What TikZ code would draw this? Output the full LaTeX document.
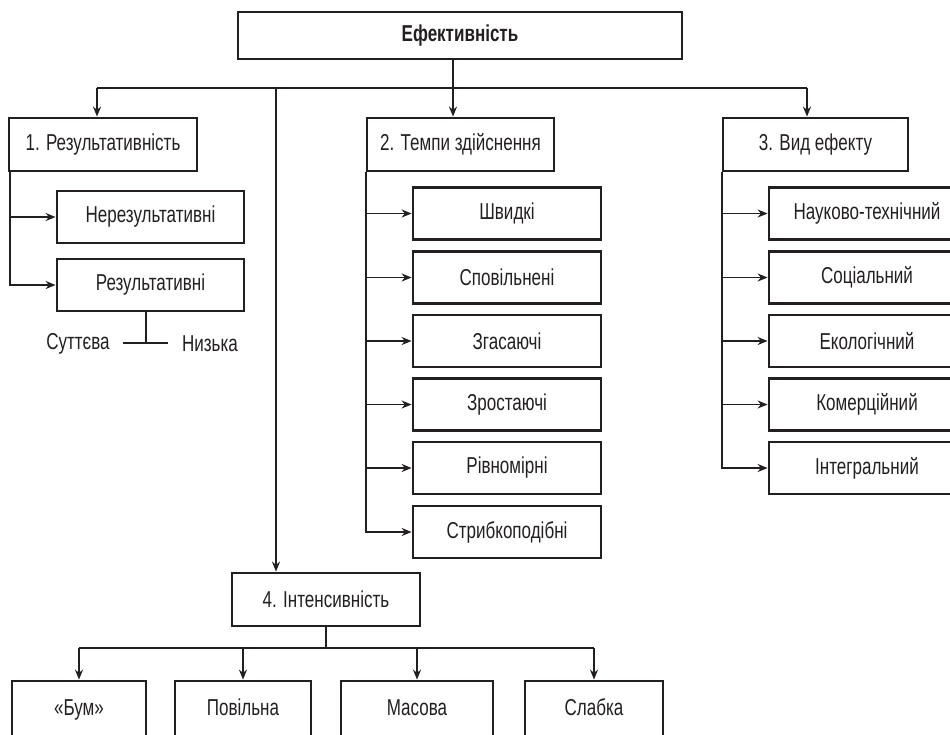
\documentclass[tikz,border=0pt]{standalone}
\usepackage{fontspec}
\setmainfont{Liberation Sans}[FakeStretch=0.74]
\usetikzlibrary{arrows.meta}
\definecolor{ink}{HTML}{231F20}
\tikzset{
  box/.style={draw=ink, line width=2.8pt, minimum height=52pt, inner sep=0pt,
    font=\fontsize{23}{25}\selectfont, text=ink},
  lowbox/.style={box, minimum height=64pt, text height=14pt, text depth=10pt},
  lbl/.style={inner sep=0pt, font=\fontsize{23}{25}\selectfont, text=ink},
  link/.style={draw=ink, line width=1.8pt},
  arr/.style={link, -{Stealth[length=10pt,width=8pt]}},
}
\begin{document}
\begin{tikzpicture}[x=1pt,y=-1pt]
\useasboundingbox (0,0) rectangle (950,734);
\clip (0,0) rectangle (950,734);

% root
\node[box, minimum width=444pt, minimum height=47pt, font=\fontsize{23}{25}\selectfont\bfseries]
  (top) at (460,35.5) {Ефективність};

% first-level groups
\node[box, minimum width=188pt, minimum height=53pt] (r1) at (103,144.5) {1. Результативність};
\node[box, minimum width=187pt, minimum height=53pt] (r2) at (460.5,144.5) {2. Темпи здійснення};
\node[box, minimum width=185pt, minimum height=53pt] (r3) at (815.5,144.5) {3. Вид ефекту};
\node[box, minimum width=188pt, minimum height=53pt] (r4) at (326,599.5) {4. Інтенсивність};

% group 1
\node[box, minimum width=187pt] (a1) at (150.5,217) {Нерезультативні};
\node[box, minimum width=187pt] (a2) at (150.5,285) {Результативні};
\node[lbl] (s1) at (78,344) {Суттєва};
\node[lbl] (s2) at (210,344) {Низька};

% group 2
\node[box, minimum width=188pt] (b1) at (507,213.5) {Швидкі};
\node[box, minimum width=188pt] (b2) at (507,277.5) {Сповільнені};
\node[box, minimum width=188pt] (b3) at (507,341) {Згасаючі};
\node[box, minimum width=188pt] (b4) at (507,404.5) {Зростаючі};
\node[box, minimum width=188pt] (b5) at (507,468) {Рівномірні};
\node[box, minimum width=188pt] (b6) at (507,532) {Стрибкоподібні};

% group 3
\node[box, minimum width=196pt] (c1) at (867,213.5) {Науково-технічний};
\node[box, minimum width=196pt] (c2) at (867,277.5) {Соціальний};
\node[box, minimum width=196pt] (c3) at (867,341) {Екологічний};
\node[box, minimum width=196pt] (c4) at (867,404.5) {Комерційний};
\node[box, minimum width=196pt] (c5) at (867,468) {Інтегральний};

% group 4 (boxes run past the lower edge)
\node[lowbox, minimum width=134pt] (d1) at (79,713) {«Бум»};
\node[lowbox, minimum width=136pt] (d2) at (243,713) {Повільна};
\node[lowbox, minimum width=152pt] (d3) at (417,713) {Масова};
\node[lowbox, minimum width=138pt] (d4) at (594,713) {Слабка};

% top bus
\coordinate (busL) at (97,88);
\coordinate (busR) at (807,88);
\coordinate (bus4) at (276,88);
\coordinate (stem) at (453,0);
\draw[link] (busL) -- (busR);
\draw[arr] (stem |- top.south) -- (stem |- r2.north);
\draw[arr] (busL) -- (busL |- r1.north);
\draw[arr] (busR) -- (busR |- r3.north);
\draw[arr] (bus4) -- (bus4 |- r4.north);

% group 1 links
\coordinate (sp1) at (10,0);
\draw[arr] (sp1 |- r1.south) |- (a2.west);
\draw[arr] (sp1 |- a1.west) -- (a1.west);
\coordinate (fork) at (146,343);
\draw[link] (fork |- a2.south) -- (fork);
\draw[link] (123,343) -- (168,343);

% group 2 links
\draw[arr] (r2.south west) |- (b6.west);
\foreach \n in {b1,b2,b3,b4,b5}
  \draw[arr] (r2.south west |- \n.west) -- (\n.west);

% group 3 links
\draw[arr] (r3.south west) |- (c5.west);
\foreach \n in {c1,c2,c3,c4}
  \draw[arr] (r3.south west |- \n.west) -- (\n.west);

% group 4 links
\coordinate (bus5) at (0,648);
\draw[link] (r4.south) -- (r4.south |- bus5);
\draw[link] (d1.north |- bus5) -- (d4.north |- bus5);
\foreach \n in {d1,d2,d3,d4}
  \draw[arr] (\n.north |- bus5) -- (\n.north);
\end{tikzpicture}
\end{document}
